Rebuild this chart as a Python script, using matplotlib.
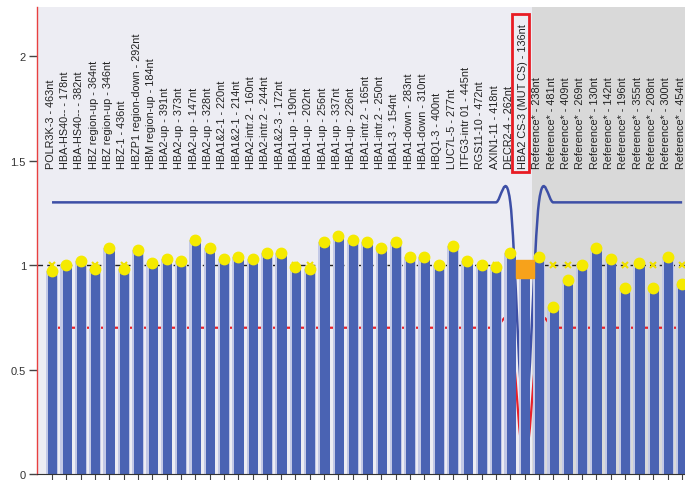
import matplotlib
matplotlib.use("Agg")
import matplotlib.pyplot as plt
from matplotlib.path import Path
from matplotlib.patches import PathPatch, Rectangle
import numpy as np

labels = [
    "POLR3K-3 - 463nt", "HBA-HS40-- - 178nt", "HBA-HS40-- - 382nt",
    "HBZ region-up - 364nt", "HBZ region-up - 346nt", "HBZ-1 - 436nt",
    "HBZP1 region-down - 292nt", "HBM region-up - 184nt", "HBA2-up - 391nt",
    "HBA2-up - 373nt", "HBA2-up - 147nt", "HBA2-up - 328nt",
    "HBA1&2-1 - 220nt", "HBA1&2-1 - 214nt", "HBA2-intr.2 - 160nt",
    "HBA2-intr.2 - 244nt", "HBA1&2-3 - 172nt", "HBA1-up - 190nt",
    "HBA1-up - 202nt", "HBA1-up - 256nt", "HBA1-up - 337nt",
    "HBA1-up - 226nt", "HBA1-intr.2 - 165nt", "HBA1-intr.2 - 250nt",
    "HBA1-3 - 154nt", "HBA1-down - 283nt", "HBA1-down - 310nt",
    "HBQ1-3 - 400nt", "LUC7L-5 - 277nt", "ITFG3-intr 01 - 445nt",
    "RGS11-10 - 472nt", "AXIN1-11 - 418nt", "DECR2-4 - 262nt",
    "HBA2 CS-3 (MUT CS) - 136nt",
    "Reference* - 238nt", "Reference* - 481nt", "Reference* - 409nt",
    "Reference* - 269nt", "Reference* - 130nt", "Reference* - 142nt",
    "Reference* - 196nt", "Reference* - 355nt", "Reference* - 208nt",
    "Reference* - 300nt", "Reference* - 454nt",
]
values = [
    0.97, 1.00, 1.02, 0.98, 1.08, 0.98, 1.07, 1.01, 1.03, 1.02,
    1.12, 1.08, 1.03, 1.04, 1.03, 1.06, 1.06, 0.99, 0.98, 1.11,
    1.14, 1.12, 1.11, 1.08, 1.11, 1.04, 1.04, 1.00, 1.09, 1.02,
    1.00, 0.99, 1.06, 0.98, 1.04, 0.80, 0.93, 1.00, 1.08, 1.03,
    0.89, 1.01, 0.89, 1.04, 0.91,
]
upper_thr = [1.30] * 33 + [0.25] + [1.30] * 11
lower_thr = [0.70] * 33 + [0.05] + [0.70] * 11
highlight_index = 33
reference_start = 34

fig = plt.figure(figsize=(6.85, 4.81), dpi=100)
ax = fig.add_axes([37 / 685, 6 / 481, 648 / 685, 467 / 481])
ax.set_facecolor("#ededf3")

n = len(values)
x = np.arange(n)

ax.axvspan(reference_start - 0.5, n + 1, color="#d9d9d9", zorder=0, lw=0)


def smooth_path(xs, ys):
    pts = np.column_stack([xs, ys]).astype(float)
    ext = np.vstack([pts[0], pts, pts[-1]])
    verts = [pts[0]]
    codes = [Path.MOVETO]
    for i in range(len(pts) - 1):
        p0, p1, p2, p3 = ext[i], ext[i + 1], ext[i + 2], ext[i + 3]
        c1 = p1 + (p2 - p0) / 6.0
        c2 = p2 - (p3 - p1) / 6.0
        verts += [c1, c2, p2]
        codes += [Path.CURVE4] * 3
    return Path(verts, codes)


ax.add_patch(PathPatch(smooth_path(x, upper_thr), fill=False,
                       edgecolor="#3d4fa6", lw=1.8, zorder=1))
ax.add_patch(PathPatch(smooth_path(x, lower_thr), fill=False,
                       edgecolor="#e8202a", lw=1.6, zorder=1))
ax.axhline(1.0, color="#222222", lw=1.0, ls=(0, (4, 3)), zorder=1)

ax.bar(x, values, width=0.82, color="#c3c9e6", zorder=2, lw=0)
ax.bar(x + 0.06, values, width=0.64, color="#4a63b3", zorder=2.1, lw=0)

vals = np.array(values)
below = vals < 1.0
below[highlight_index] = False
ax.plot(x[below], np.ones(below.sum()), ls="none", marker="x",
        color="#f0e000", ms=4, mew=1.5, zorder=3)

mask = np.ones(n, bool)
mask[highlight_index] = False
ax.plot(x[mask], vals[mask], ls="none", marker="o", color="#f5ea00",
        ms=7.5, mec="#f5ea00", zorder=4)
ax.plot([x[highlight_index]], [vals[highlight_index]], ls="none", marker="s",
        color="#f7a21b", ms=13.5, zorder=4)

for xi, lab in zip(x, labels):
    ax.text(xi - 0.1, 1.465, lab, rotation=90, ha="center", va="bottom",
            fontsize=7.8, family="Liberation Sans", color="#222222", zorder=5)

ax.add_patch(Rectangle((highlight_index - 0.85, 1.445), 1.15, 0.755,
                       fill=False, edgecolor="#e81c24", lw=2.0, zorder=6))

ax.set_xlim(-1.05, 44.2)
ax.set_ylim(0, 2.235)
ax.set_xticks(x)
ax.set_xticklabels([])
ax.set_yticks([0, 0.5, 1, 1.5, 2])
ax.set_yticklabels(["0", "0.5", "1", "1.5", "2"])
ax.tick_params(axis="y", length=6, width=1, color="#444444", labelsize=8,
               labelcolor="#333333", pad=2)
ax.tick_params(axis="x", length=4, width=0.8, color="#444444")
for lab in ax.get_yticklabels():
    lab.set_family("Liberation Sans")
ax.get_xticklines()[2 * highlight_index].set_color("#f0e000")
ax.spines["top"].set_visible(False)
ax.spines["right"].set_visible(False)
ax.spines["left"].set_color("#e84040")
ax.spines["left"].set_linewidth(1.0)
ax.spines["bottom"].set_color("#333333")

fig.savefig("out.png", dpi=100)
